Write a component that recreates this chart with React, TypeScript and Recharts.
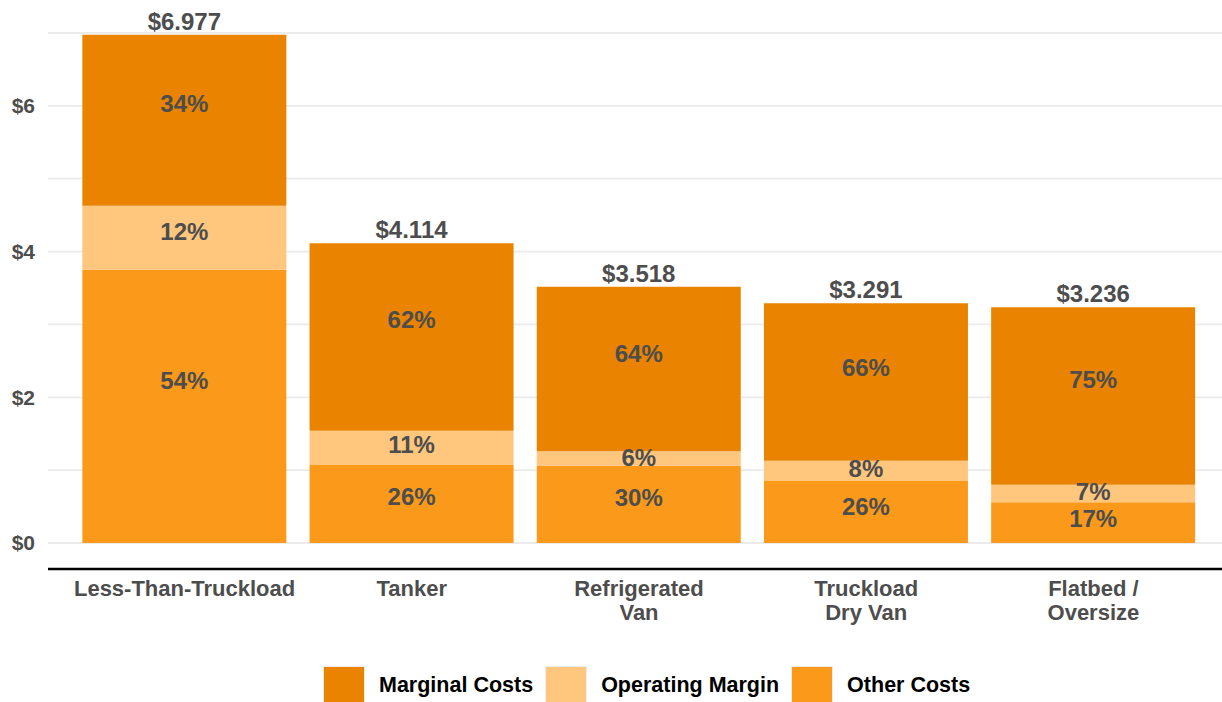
import React from "react";
import {
  BarChart,
  Bar,
  XAxis,
  YAxis,
  CartesianGrid,
  LabelList,
  Legend,
} from "recharts";

const categories = ["Less-Than-Truckload", "Tanker", "Refrigerated\nVan", "Truckload\nDry Van", "Flatbed /\nOversize"];
const otherCosts = [3.75, 1.07, 1.06, 0.85, 0.56];
const operatingMargin = [0.88, 0.47, 0.2, 0.28, 0.24];
const marginalCosts = [2.347, 2.574, 2.258, 2.161, 2.436];
const totalLabels = ["$6.977", "$4.114", "$3.518", "$3.291", "$3.236"];
const otherPct = ["54%", "26%", "30%", "26%", "17%"];
const marginPct = ["12%", "11%", "6%", "8%", "7%"];
const marginalPct = ["34%", "62%", "64%", "66%", "75%"];
const yTicks = [0, 1, 2, 3, 4, 5, 6, 7];

const COLORS = {
  marginal: "#E98300",
  margin: "#FFC67E",
  other: "#FB9A1A",
};
const FONT = '"Liberation Sans", Arial, Helvetica, sans-serif';
const TEXT = "#4d4d4d";

const data = categories.map((name, i) => ({
  name,
  other: otherCosts[i],
  margin: operatingMargin[i],
  marginal: marginalCosts[i],
  otherLbl: otherPct[i],
  marginLbl: marginPct[i],
  marginalLbl: marginalPct[i],
  totalLbl: totalLabels[i],
}));

const legendItems = [
  { label: "Marginal Costs", color: COLORS.marginal },
  { label: "Operating Margin", color: COLORS.margin },
  { label: "Other Costs", color: COLORS.other },
];

function CategoryTick({ x, y, payload }: any) {
  const lines = String(payload.value).split("\n");
  return (
    <text x={x} y={y} textAnchor="middle" fill={TEXT} fontSize={22} fontWeight="bold" fontFamily={FONT}>
      {lines.map((l, i) => (
        <tspan key={i} x={x} dy={i === 0 ? 27 : 24}>
          {l}
        </tspan>
      ))}
    </text>
  );
}

// segment labels sit a bit above the middle of each stacked piece (like the source)
function SegmentLabel(props: any) {
  const vb = props.viewBox || props;
  const x = vb.x + vb.width / 2;
  const top = Math.min(vb.y, vb.y + vb.height);
  const h = Math.abs(vb.height);
  return (
    <text
      x={x}
      y={top + h * 0.405}
      dy="0.355em"
      textAnchor="middle"
      fill={TEXT}
      fontSize={24}
      fontWeight="bold"
      fontFamily={FONT}
    >
      {props.value}
    </text>
  );
}

function renderLegend() {
  return (
    <div style={{ display: "flex", alignItems: "center", paddingLeft: 323, fontFamily: FONT }}>
      {legendItems.map((it) => (
        <div key={it.label} style={{ display: "flex", alignItems: "center", marginRight: 12 }}>
          <div
            style={{
              width: 40,
              height: 36,
              background: it.color,
              border: "1.5px solid #ededed",
              marginRight: 14,
            }}
          />
          <span style={{ fontSize: 21.5, fontWeight: "bold", color: "#000" }}>{it.label}</span>
        </div>
      ))}
    </div>
  );
}

export default function App() {
  return (
    <div style={{ width: 1222, height: 702, background: "#fff" }}>
      <style>{"body{margin:0}"}</style>
      <BarChart
        width={1222}
        height={702}
        data={data}
        margin={{ top: 33, right: 0, left: 0, bottom: 73 }}
        barCategoryGap="5%"
      >
        <CartesianGrid vertical={false} stroke="#ebebeb" strokeWidth={1.8} horizontalValues={yTicks} />
        <XAxis
          dataKey="name"
          height={60}
          interval={0}
          tickLine={false}
          tickSize={0}
          tickMargin={0}
          axisLine={{ stroke: "#000", strokeWidth: 2.5 }}
          padding={{ left: 23, right: 15 }}
          tick={<CategoryTick />}
        />
        <YAxis
          width={48}
          domain={[-0.357, 7]}
          allowDataOverflow
          ticks={yTicks}
          interval={0}
          axisLine={false}
          tickLine={false}
          tickSize={0}
          tickMargin={13}
          tickFormatter={(v: number) => (v % 2 === 0 ? `$${v}` : "")}
          tick={{ fill: TEXT, fontSize: 21, fontWeight: "bold", fontFamily: FONT }}
        />
        <Legend
          verticalAlign="middle"
          align="center"
          layout="horizontal"
          content={renderLegend}
          wrapperStyle={{ top: 666, left: 0, width: 1222 }}
        />
        <Bar dataKey="other" stackId="a" fill={COLORS.other} isAnimationActive={false}>
          <LabelList dataKey="otherLbl" content={<SegmentLabel />} />
        </Bar>
        <Bar dataKey="margin" stackId="a" fill={COLORS.margin} isAnimationActive={false}>
          <LabelList dataKey="marginLbl" content={<SegmentLabel />} />
        </Bar>
        <Bar dataKey="marginal" stackId="a" fill={COLORS.marginal} isAnimationActive={false}>
          <LabelList dataKey="marginalLbl" content={<SegmentLabel />} />
          <LabelList
            dataKey="totalLbl"
            position="top"
            offset={5}
            fill={TEXT}
            fontSize={24}
            fontWeight="bold"
            fontFamily={FONT}
          />
        </Bar>
      </BarChart>
    </div>
  );
}
